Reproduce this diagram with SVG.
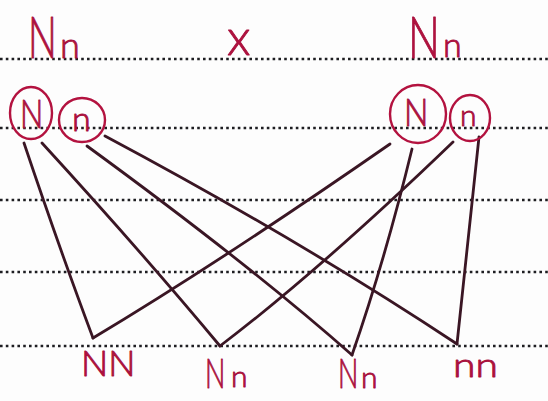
<svg xmlns="http://www.w3.org/2000/svg" width="548" height="401" viewBox="0 0 548 401">
  <style>
    .rule { stroke: #1e1e22; stroke-width: 2.6; stroke-dasharray: 2.6 3.2; fill: none; }
    .lbl { font-family: "Lato", "Roboto", "Liberation Sans", sans-serif; font-weight: 300; fill: #b0123f; stroke: #a8103c; stroke-width: 0.9; stroke-linejoin: round; }
    .ring { fill: none; stroke: #b3123f; stroke-width: 2.4; }
    .conn { fill: none; stroke: #3a1624; stroke-width: 2.8; stroke-linecap: round; stroke-linejoin: round; }
  </style>
  <rect width="548" height="401" fill="#fdfdfd"/>
  <g id="paper">
    <line class="rule" x1="0" y1="59" x2="548" y2="59"/>
    <line class="rule" x1="0" y1="128" x2="548" y2="128"/>
    <line class="rule" x1="0" y1="200" x2="548" y2="200"/>
    <line class="rule" x1="0" y1="272" x2="548" y2="272"/>
    <line class="rule" x1="0" y1="346" x2="548" y2="346"/>
  </g>
  <g id="connectors">
    <path class="conn" d="M24,143 Q60,250 93,338"/>
    <path class="conn" d="M42,143 Q140,250 220,346"/>
    <path class="conn" d="M87,146 Q250,265 352,355"/>
    <path class="conn" d="M105,136 Q300,240 457,344"/>
    <path class="conn" d="M390,144 Q220,262 93,338"/>
    <path class="conn" d="M412,149 Q385,260 352,355"/>
    <path class="conn" d="M453,142 Q320,270 220,346"/>
    <path class="conn" d="M479,137 Q466,260 457,344"/>
  </g>
  <g id="parent-left">
    <text class="lbl" transform="translate(28,58) scale(0.67,1)" font-size="57">N</text>
    <text class="lbl" x="60" y="58" font-size="36">n</text>
  </g>
  <g id="cross">
    <text class="lbl" x="227" y="55" font-size="50">x</text>
  </g>
  <g id="parent-right">
    <text class="lbl" transform="translate(408,58) scale(0.74,1)" font-size="57">N</text>
    <text class="lbl" x="443" y="57" font-size="34">n</text>
  </g>
  <g id="gamete-left-N">
    <ellipse class="ring" cx="31" cy="113" rx="21" ry="26"/>
    <text class="lbl" transform="translate(20,128) scale(0.77,1)" font-size="40">N</text>
  </g>
  <g id="gamete-left-n">
    <ellipse class="ring" cx="82" cy="120" rx="23" ry="22"/>
    <text class="lbl" x="72" y="131" font-size="34">n</text>
  </g>
  <g id="gamete-right-N">
    <ellipse class="ring" cx="418" cy="114" rx="28" ry="29"/>
    <text class="lbl" transform="translate(404,126) scale(0.85,1)" font-size="38">N</text>
  </g>
  <g id="gamete-right-n">
    <ellipse class="ring" cx="470" cy="118" rx="20" ry="23"/>
    <text class="lbl" x="460" y="126" font-size="30">n</text>
  </g>
  <g id="offspring-NN">
    <text class="lbl" x="81" y="376" font-size="36">NN</text>
  </g>
  <g id="offspring-Nn-1">
    <text class="lbl" transform="translate(205,388) scale(0.64,1)" font-size="42">N</text>
    <text class="lbl" x="231" y="387" font-size="30">n</text>
  </g>
  <g id="offspring-Nn-2">
    <text class="lbl" transform="translate(338,388) scale(0.64,1)" font-size="42">N</text>
    <text class="lbl" x="361" y="388" font-size="30">n</text>
  </g>
  <g id="offspring-nn">
    <text class="lbl" transform="translate(453,377) scale(1.2,1)" font-size="34">nn</text>
  </g>
</svg>
